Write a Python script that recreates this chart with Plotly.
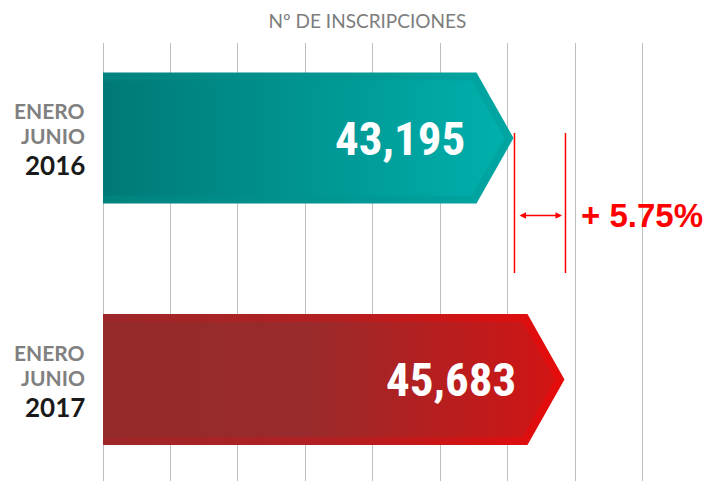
import plotly.graph_objects as go

# ---------------- data ----------------
periods = ["ENERO", "JUNIO"]
years = ["2016", "2017"]
values = [43195, 45683]
value_labels = ["43,195", "45,683"]
change_label = "+ 5.75%"
title_text = "Nº DE INSCRIPCIONES"

# ---------------- scale / layout params ----------------
W, H = 719, 481
M_L, M_R, M_T, M_B = 80, 39, 43, 0
PLOT_W = W - M_L - M_R
PLOT_H = H - M_T - M_B

UPP = 2488 / 51.0            # axis units per pixel (horizontal)
AXIS_BASE = 23170            # axis value where the bars start
GRID_STEP = 67.45 * UPP
X_RANGE = [AXIS_BASE - 23 * UPP, AXIS_BASE - 23 * UPP + PLOT_W * UPP]

ROW_PX = 241.5               # pixels between the two bar centres
y_pos = [1, 0]               # 2016 on top, 2017 below
Y_TOP = 1 + (138 - M_T) / ROW_PX
Y_RANGE = [Y_TOP - PLOT_H / ROW_PX, Y_TOP]


def px_x(p):
    return p * UPP


def px_y(p):
    return p / ROW_PX


HALF_H = 65.5
DEPTH = 37.0
BAND = 8.0
diag = (DEPTH ** 2 + HALF_H ** 2) ** 0.5

teal_band = [[0, "#00827e"], [1, "#00a6a2"]]
teal_in = [[0, "#007976"], [1, "#00b1ad"]]
red_band = [[0, "#9d2729"], [0.5, "#b21f21"], [1, "#e60b0b"]]
red_in = [[0, "#952a2b"], [0.45, "#992a2b"], [1, "#d31313"]]
schemes = [(teal_band, teal_in), (red_band, red_in)]

fig = go.Figure()

for v, yc, (band_cs, in_cs) in zip(values, y_pos, schemes):
    h = px_y(HALF_H)
    # outer arrow
    xs = [AXIS_BASE, v - px_x(DEPTH), v, v - px_x(DEPTH), AXIS_BASE, AXIS_BASE]
    ys = [yc + h, yc + h, yc, yc - h, yc - h, yc + h]
    fig.add_trace(go.Scatter(
        x=xs, y=ys, mode="lines", fill="toself", line=dict(width=0),
        fillgradient=dict(type="horizontal", colorscale=band_cs,
                          start=AXIS_BASE, stop=v),
        hoverinfo="skip", showlegend=False))
    # inner arrow
    tip_in = v - px_x(BAND * diag / HALF_H)
    top_in = tip_in - px_x(DEPTH * (HALF_H - BAND) / HALF_H)
    hi = px_y(HALF_H - BAND)
    xs2 = [AXIS_BASE, top_in, tip_in, top_in, AXIS_BASE, AXIS_BASE]
    ys2 = [yc + hi, yc + hi, yc, yc - hi, yc - hi, yc + hi]
    fig.add_trace(go.Scatter(
        x=xs2, y=ys2, mode="lines", fill="toself", line=dict(width=0),
        fillgradient=dict(type="horizontal", colorscale=in_cs,
                          start=AXIS_BASE, stop=v),
        hoverinfo="skip", showlegend=False))

annotations = []
# value labels inside the bars
for v, yc, lab in zip(values, y_pos, value_labels):
    annotations.append(dict(
        x=v - px_x(46), y=yc, xref="x", yref="y", text="<b>" + lab + "</b>",
        showarrow=False, xanchor="right", yanchor="middle",
        font=dict(family="Liberation Sans Narrow, Roboto Condensed, Arial Narrow, sans-serif",
                  size=47, color="white")))

# left labels
for yc, yr in zip(y_pos, years):
    for txt, off in zip(periods, [27.5, 2.5]):
        annotations.append(dict(
            x=AXIS_BASE - px_x(16), y=yc + px_y(off), xref="x", yref="y",
            text="<b>" + txt + "</b>", showarrow=False,
            xanchor="right", yanchor="middle",
            font=dict(family="Lato, sans-serif", size=21, color="#808080")))
    annotations.append(dict(
        x=AXIS_BASE - px_x(16), y=yc - px_y(27), xref="x", yref="y",
        text="<b>" + yr + "</b>", showarrow=False,
        xanchor="right", yanchor="middle",
        font=dict(family="Lato, sans-serif", size=26, color="#1a1a1a")))

# difference marker
arrow_y = 1 - px_y(77.5)
annotations.append(dict(
    x=values[1] - px_x(2.5), y=arrow_y, ax=values[0] + px_x(4.5), ay=arrow_y,
    xref="x", yref="y", axref="x", ayref="y", text="",
    showarrow=True, arrowhead=2, startarrowhead=2, arrowside="end+start",
    arrowsize=1, startarrowsize=1, arrowwidth=1.3, arrowcolor="#ff0000"))
annotations.append(dict(
    x=values[1] + px_x(15), y=arrow_y, xref="x", yref="y",
    text="<b>" + change_label + "</b>", showarrow=False,
    xanchor="left", yanchor="middle",
    font=dict(family="Liberation Sans, Arial, sans-serif", size=33, color="#ff0000")))

shapes = []
for v in values:
    shapes.append(dict(type="line", xref="x", yref="y",
                       x0=v + px_x(1), x1=v + px_x(1),
                       y0=1 - px_y(133 - 138), y1=1 - px_y(273 - 138),
                       line=dict(color="#ff0000", width=1.5)))

fig.update_layout(
    width=W, height=H,
    margin=dict(l=M_L, r=M_R, t=M_T, b=M_B),
    paper_bgcolor="white", plot_bgcolor="white",
    title=dict(text=title_text, x=0.511, xanchor="center",
               y=1 - 21 / H, yanchor="middle", yref="container",
               font=dict(family="Lato, sans-serif", size=19, color="#7d7d7d")),
    xaxis=dict(range=X_RANGE, showgrid=True, gridcolor="#bfbfbf", gridwidth=1.3,
               tick0=AXIS_BASE, dtick=GRID_STEP, showticklabels=False,
               zeroline=False, showline=False, ticks="", fixedrange=True),
    yaxis=dict(range=Y_RANGE, showgrid=False, showticklabels=False,
               zeroline=False, showline=False, ticks="", fixedrange=True),
    annotations=annotations, shapes=shapes,
    showlegend=False,
)

fig.write_html("out.html", config={"displayModeBar": False},
               post_script="document.body.style.margin='0';document.body.style.overflow='hidden';")
